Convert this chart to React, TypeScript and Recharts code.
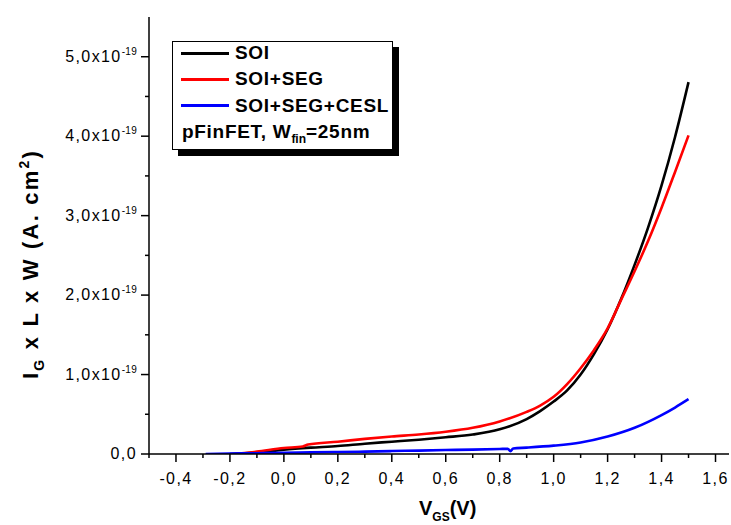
import { Legend, Line, LineChart, XAxis, YAxis } from 'recharts'

// gate current normalised by L x W, units of 1e-19 A.cm^2
const soiV = [-0.2, -0.1, 0.0, 0.1, 0.2, 0.3, 0.4, 0.5, 0.6, 0.7, 0.8, 0.9, 0.95, 1.0, 1.05, 1.1, 1.15, 1.2, 1.25, 1.3, 1.35, 1.4, 1.45, 1.5]
const soiI = [0, 0.02, 0.055, 0.08, 0.1, 0.13, 0.155, 0.18, 0.21, 0.245, 0.31, 0.44, 0.54, 0.66, 0.8, 1.0, 1.26, 1.57, 1.95, 2.38, 2.85, 3.38, 3.99, 4.68]

const segV = [-0.18, -0.1, 0.0, 0.07, 0.09, 0.2, 0.3, 0.4, 0.5, 0.6, 0.7, 0.8, 0.9, 0.95, 1.0, 1.05, 1.1, 1.15, 1.2, 1.25, 1.3, 1.35, 1.4, 1.45, 1.5]
const segI = [0, 0.03, 0.075, 0.095, 0.12, 0.155, 0.19, 0.22, 0.245, 0.28, 0.33, 0.41, 0.53, 0.61, 0.72, 0.88, 1.08, 1.31, 1.58, 1.94, 2.3, 2.68, 3.1, 3.55, 4.01]

const ceslV = [-0.29, -0.2, -0.1, 0.0, 0.1, 0.2, 0.3, 0.4, 0.5, 0.6, 0.7, 0.8, 0.83, 0.84, 0.85, 0.9, 1.0, 1.1, 1.2, 1.3, 1.4, 1.45, 1.5]
const ceslI = [0, 0.005, 0.01, 0.014, 0.02, 0.025, 0.03, 0.037, 0.043, 0.05, 0.055, 0.063, 0.066, 0.035, 0.07, 0.08, 0.105, 0.145, 0.22, 0.33, 0.49, 0.585, 0.69]

const xTicks = [-0.5, -0.4, -0.3, -0.2, -0.1, 0, 0.1, 0.2, 0.3, 0.4, 0.5, 0.6, 0.7, 0.8, 0.9, 1.0, 1.1, 1.2, 1.3, 1.4, 1.5, 1.6]
const yTicks = [0, 0.5, 1, 1.5, 2, 2.5, 3, 3.5, 4, 4.5, 5]

const series = [
  { name: 'SOI', color: '#000000', v: soiV, i: soiI },
  { name: 'SOI+SEG', color: '#ff0000', v: segV, i: segI },
  { name: 'SOI+SEG+CESL', color: '#0000ff', v: ceslV, i: ceslI },
]

const FONT = "'Liberation Sans', Arial, sans-serif"

const toPoints = (v: number[], i: number[]) => v.map((x, k) => ({ x, y: i[k] }))

const isMajor = (n: number) => Math.abs(n * 5 - Math.round(n * 5)) < 1e-6

function BottomTick({ x, y, payload }: any) {
  const v = payload.value
  const major = isMajor(v)
  return (
    <g>
      <line x1={x} x2={x} y1={y} y2={y + (major ? 8 : 4)} stroke="#000" strokeWidth={1.5} />
      {major && (
        <text x={x} y={y + 30} textAnchor="middle" fontSize={16} letterSpacing={1.4} fontFamily={FONT} fill="#000">
          {v.toFixed(1).replace('.', ',')}
        </text>
      )}
    </g>
  )
}

function TopTick({ x, y, payload }: any) {
  const major = isMajor(payload.value)
  return <line x1={x} x2={x} y1={y} y2={y - (major ? 8 : 4)} stroke="#000" strokeWidth={1.5} />
}

function LeftTick({ x, y, payload }: any) {
  const v = payload.value
  const major = Number.isInteger(v)
  return (
    <g>
      <line x1={x} x2={x - (major ? 8 : 4)} y1={y} y2={y} stroke="#000" strokeWidth={1.5} />
      {major && (
        <text x={x - 12} y={y + 5} textAnchor="end" fontSize={16} letterSpacing={1.4} fontFamily={FONT} fill="#000">
          {v === 0 ? (
            '0,0'
          ) : (
            <>
              <tspan>{`${v},0x10`}</tspan>
              <tspan fontSize={10} dy={-7} letterSpacing={0.3}>-19</tspan>
            </>
          )}
        </text>
      )}
    </g>
  )
}

function LegendBox() {
  const row = (center: number) => ({ position: 'absolute' as const, left: 0, top: center - 13, height: 26, width: '100%' })
  return (
    <div
      style={{
        position: 'relative',
        width: 221,
        height: 109,
        boxSizing: 'border-box',
        border: '1.3px solid #000',
        boxShadow: '6px 6px 0 #000',
        background: '#fff',
        fontFamily: FONT,
        fontWeight: 'bold',
        fontSize: 19,
        letterSpacing: 0.7,
        color: '#000',
      }}
    >
      {series.map((s, k) => (
        <div key={s.name} style={row(11 + k * 26.4)}>
          <div style={{ position: 'absolute', left: 8, top: 11.5, width: 48, height: 3, background: s.color }} />
          <div style={{ position: 'absolute', left: 62, top: 0, lineHeight: '26px', whiteSpace: 'nowrap' }}>{s.name}</div>
        </div>
      ))}
      <div style={row(90)}>
        <div style={{ position: 'absolute', left: 9, top: 0, lineHeight: '26px', whiteSpace: 'nowrap' }}>
          pFinFET, W<sub style={{ fontSize: 12, verticalAlign: -5, letterSpacing: 0 }}>fin</sub>=25nm
        </div>
      </div>
    </div>
  )
}

export default function App() {
  return (
    <div style={{ position: 'absolute', left: 0, top: 0, width: 731, height: 525, background: '#fff' }}>
      <LineChart width={731} height={525} margin={{ top: 17, right: 2, bottom: 0, left: 0 }}>
        <XAxis
          xAxisId="b"
          type="number"
          dataKey="x"
          domain={[-0.5, 1.65]}
          allowDataOverflow
          ticks={xTicks}
          interval={0}
          height={71}
          tickSize={0}
          tickMargin={0}
          tickLine={false}
          axisLine={{ stroke: '#000', strokeWidth: 1.5 }}
          tick={(p: any) => <BottomTick {...p} />}
          label={{
            content: () => (
              <text x={419} y={515} fontSize={20} fontWeight="bold" fontFamily={FONT} fill="#000">
                V<tspan fontSize={12} dy={6}>GS</tspan>
                <tspan dy={-6}>(V)</tspan>
              </text>
            ),
          }}
        />
        <XAxis
          xAxisId="t"
          orientation="top"
          type="number"
          dataKey="x"
          domain={[-0.5, 1.65]}
          allowDataOverflow
          ticks={xTicks}
          interval={0}
          height={0}
          tickSize={0}
          tickMargin={0}
          tickLine={false}
          axisLine={{ stroke: '#000', strokeWidth: 1.5 }}
          tick={(p: any) => <TopTick {...p} />}
        />
        <YAxis
          type="number"
          domain={[0, 5.5]}
          allowDataOverflow
          ticks={yTicks}
          interval={0}
          width={149}
          tickSize={0}
          tickMargin={0}
          tickLine={false}
          axisLine={{ stroke: '#000', strokeWidth: 1.5 }}
          tick={(p: any) => <LeftTick {...p} />}
          label={{
            content: () => (
              <text transform="rotate(-90)" x={-264} y={38} textAnchor="middle" fontSize={22} fontWeight="bold" letterSpacing={2.2} fontFamily={FONT} fill="#000">
                I<tspan fontSize={14} dy={6}>G</tspan>
                <tspan dy={-6}> x L x W (A. cm</tspan>
                <tspan fontSize={14} dy={-9}>2</tspan>
                <tspan dy={9}>)</tspan>
              </text>
            ),
          }}
        />
        <Legend
          layout="vertical"
          align="center"
          verticalAlign="middle"
          wrapperStyle={{ position: 'absolute', left: 172, top: 41, width: 'auto' }}
          content={() => <LegendBox />}
        />
        {series.map((s) => (
          <Line
            key={s.name}
            xAxisId="b"
            data={toPoints(s.v, s.i)}
            dataKey="y"
            name={s.name}
            type="monotone"
            stroke={s.color}
            strokeWidth={2.6}
            dot={false}
            isAnimationActive={false}
          />
        ))}
      </LineChart>
    </div>
  )
}
